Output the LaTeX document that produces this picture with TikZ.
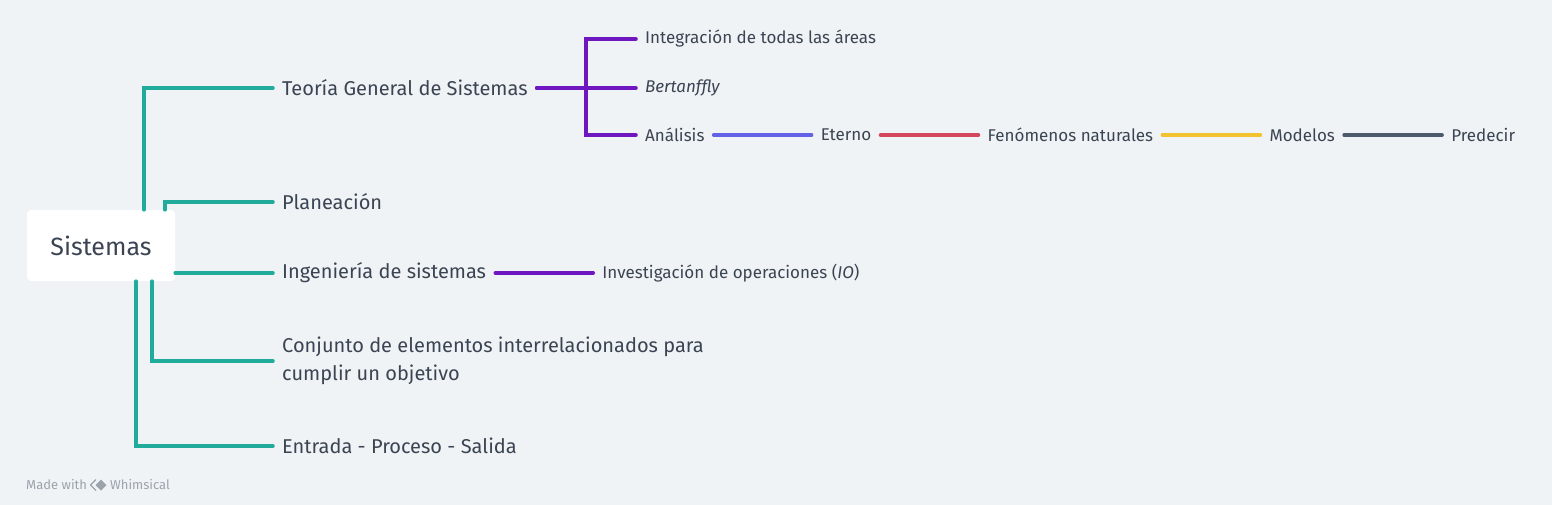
\documentclass[tikz,border=0pt]{standalone}
\usepackage{fontspec}
\setmainfont{Fira Sans}
\usetikzlibrary{positioning}
\definecolor{bg}{HTML}{F0F3F6}
\definecolor{ink}{HTML}{3B4452}
\definecolor{teal}{HTML}{20AB9A}
\definecolor{violet}{HTML}{6E16BF}
\definecolor{lilac}{HTML}{6361E8}
\definecolor{rose}{HTML}{D4475A}
\definecolor{amber}{HTML}{F2C12E}
\definecolor{slate}{HTML}{4B5B6B}
\definecolor{faint}{HTML}{9BA3AD}
\begin{document}
\begin{tikzpicture}[x=1pt,y=-1pt,node distance=98pt,
  big/.style={anchor=west,inner xsep=9pt,inner ysep=0pt,text=ink,font=\fontsize{20}{28}\selectfont},
  small/.style={anchor=west,inner xsep=9pt,inner ysep=0pt,text=ink,font=\fontsize{17}{20}\selectfont},
  link/.style={line width=3.5pt,line cap=round}]
\useasboundingbox[fill=bg] (0,0) rectangle (1552,505);

\node[fill=white,rounded corners=4pt,minimum width=148pt,minimum height=71pt,text=ink,font=\fontsize{25}{28}\selectfont] (sys) at (101,245.5) {Sistemas};

\node[big] (tgs)  at (273,88)  {Teoría General de Sistemas};
\node[big] (plan) at (273,202) {Planeación};
\node[big] (ing)  at (273,273) {Ingeniería de sistemas};
\node[big,align=left] (conj) at (273,361) {Conjunto de elementos interrelacionados para\\cumplir un objetivo};
\node[big] (esp)  at (273,446) {Entrada - Proceso - Salida};

\node[small] (integ) at (636,39)  {Integración de todas las áreas};
\node[small] (bert)  at (636,88)  {\itshape Bertanffly};
\node[small] (anal)  at (636,135) {Análisis};
\node[small,right=of anal] (eter) {Eterno};
\node[small,right=of eter] (fen)  {Fenómenos naturales};
\node[small,right=of fen]  (mod)  {Modelos};
\node[small,right=of mod]  (pred) {Predecir};
\node[small,right=of ing]  (io)   {Investigación de operaciones (\textit{IO})};

\draw[link,teal] ([xshift=43pt]sys.north) |- (tgs.west);
\draw[link,teal] ([xshift=64pt]sys.north) |- (plan.west);
\draw[link,teal] ([yshift=-27.5pt]sys.east) -- (ing.west);
\draw[link,teal] ([xshift=51pt]sys.south) |- (conj.west);
\draw[link,teal] ([xshift=35pt]sys.south) |- (esp.west);

\draw[link,violet] (tgs.east) -- ++(49,0) |- (integ.west);
\draw[link,violet] (tgs.east) -- (bert.west);
\draw[link,violet] (tgs.east) -- ++(49,0) |- (anal.west);
\draw[link,violet] (ing.east) -- (io.west);

\draw[link,lilac] (anal.east) -- (eter.west);
\draw[link,rose]  (eter.east) -- (fen.west);
\draw[link,amber] (fen.east)  -- (mod.west);
\draw[link,slate] (mod.east)  -- (pred.west);

\node[anchor=west,inner sep=0pt,text=faint,font=\fontsize{13}{15}\selectfont] (made) at (26,485) {Made with};
\fill[faint] (101,479.5) -- (106.5,485) -- (101,490.5) -- (95.5,485) -- cycle;
\draw[faint,line width=1.3pt,line join=round] (96,479.5) -- (90.5,485) -- (96,490.5);
\node[anchor=west,inner sep=0pt,text=faint,font=\fontsize{13}{15}\selectfont] (whim) at (110,485) {Whimsical};
\end{tikzpicture}
\end{document}
